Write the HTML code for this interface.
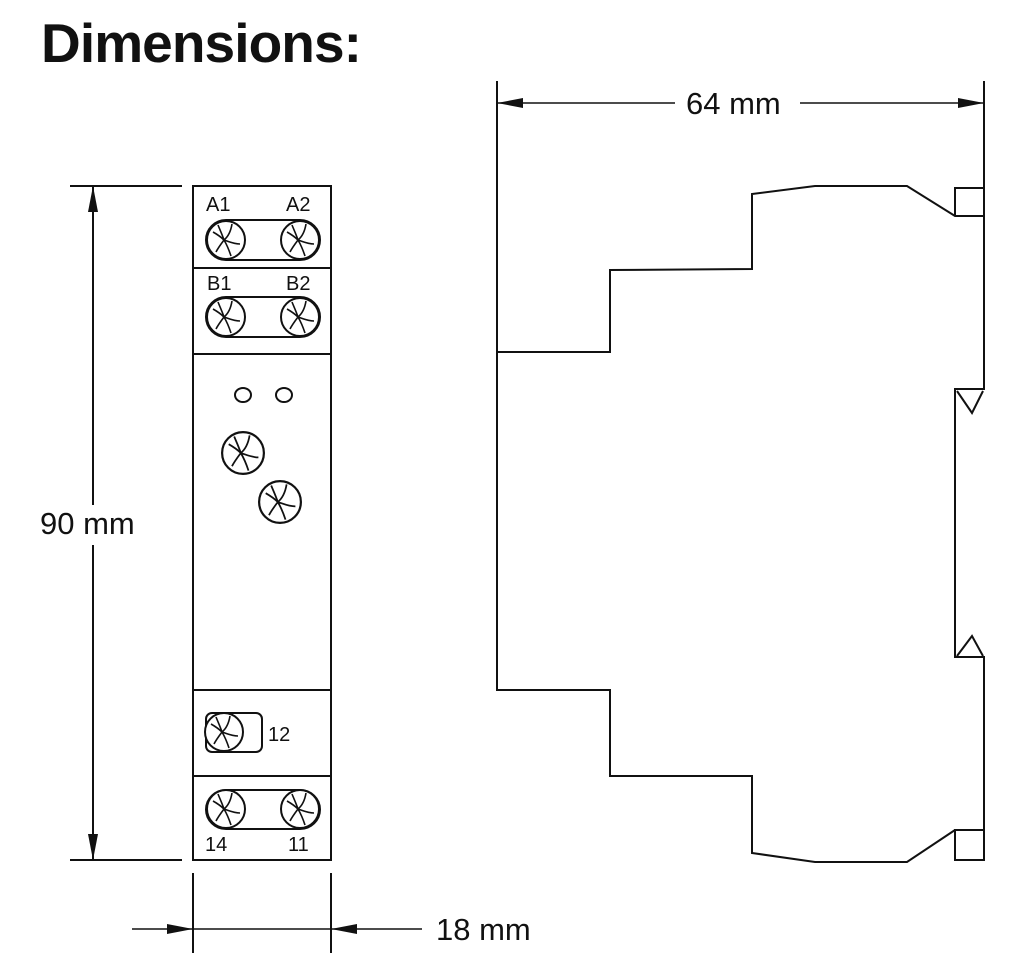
<!DOCTYPE html>
<html><head><style>
html,body{margin:0;padding:0;background:#fff;}
svg{display:block;}
text{font-family:"Liberation Sans",Arial,sans-serif;fill:#111;}
</style></head><body>
<svg width="1022" height="964" viewBox="0 0 1022 964" xmlns="http://www.w3.org/2000/svg">
<defs>
<g id="scr">
<circle r="19" fill="#fff" stroke="#111" stroke-width="2"/>
<path d="M-13,-8 C-6,-4 -4,-2 -2,0 C-5,4 -8,8 -10,12 M-2,0 C3,-4 5,-10 6,-16 M-2,0 C4,2 8,4 14,4 M-2,0 C1,5 3,10 5,16 M-2,0 C-4,-6 -6,-10 -8,-15" fill="none" stroke="#111" stroke-width="1.6"/>
</g>
</defs>
<text x="41" y="62" font-size="55" font-weight="bold" textLength="321">Dimensions:</text>

<g fill="none" stroke="#111" stroke-width="2">
<line x1="70" y1="186" x2="182" y2="186"/>
<line x1="70" y1="860" x2="182" y2="860"/>
<line x1="93" y1="186" x2="93" y2="505"/>
<line x1="93" y1="545" x2="93" y2="860"/>
<line x1="193" y1="873" x2="193" y2="953"/>
<line x1="331" y1="873" x2="331" y2="953"/>
<line x1="132" y1="929" x2="422" y2="929" stroke-width="1.5"/>
<line x1="497" y1="81" x2="497" y2="352"/>
<line x1="984" y1="81" x2="984" y2="188"/>
<line x1="497" y1="103" x2="675" y2="103" stroke-width="1.5"/>
<line x1="800" y1="103" x2="984" y2="103" stroke-width="1.5"/>

<rect x="193" y="186" width="138" height="674"/>
<line x1="193" y1="268" x2="331" y2="268"/>
<line x1="193" y1="354" x2="331" y2="354"/>
<line x1="193" y1="690" x2="331" y2="690"/>
<line x1="193" y1="776" x2="331" y2="776"/>
<rect x="206" y="220" width="114" height="40" rx="20"/>
<rect x="206" y="297" width="114" height="40" rx="20"/>
<rect x="206" y="713" width="56" height="39" rx="6"/>
<rect x="206" y="790" width="114" height="39" rx="20"/>
<ellipse cx="243" cy="395" rx="8" ry="7"/>
<ellipse cx="284" cy="395" rx="8" ry="7"/>

<path d="M497,352 L610,352 L610,270 L752,269 L752,194 L815,186 L907,186 L955,216 L984,216 M955,216 L955,188 L984,188 L984,389 L955,389 L955,657 L984,657 L984,860 L955,860 L955,830 L984,830 M955,830 L907,862 L815,862 L752,853 L752,776 L610,776 L610,690 L497,690 L497,352"/>
<path d="M957,391 L972,413 L983,391"/>
<path d="M957,656 L972,636 L983,656"/>
</g>
<g fill="#111">
<polygon points="93,186 88,212 98,212"/>
<polygon points="93,860 88,834 98,834"/>
<polygon points="193,929 167,924 167,934"/>
<polygon points="331,929 357,924 357,934"/>
<polygon points="497,103 523,98 523,108"/>
<polygon points="984,103 958,98 958,108"/>
</g>
<use href="#scr" x="226" y="240"/>
<use href="#scr" x="300" y="240"/>
<use href="#scr" x="226" y="317"/>
<use href="#scr" x="300" y="317"/>
<use href="#scr" x="224" y="732"/>
<use href="#scr" x="226" y="809"/>
<use href="#scr" x="300" y="809"/>
<g transform="translate(243,453) scale(1.1)"><use href="#scr"/></g>
<g transform="translate(280,502) scale(1.1)"><use href="#scr"/></g>

<g font-size="20">
<text x="206" y="211">A1</text>
<text x="286" y="211">A2</text>
<text x="207" y="290">B1</text>
<text x="286" y="290">B2</text>
<text x="268" y="741">12</text>
<text x="205" y="851">14</text>
<text x="288" y="851">11</text>
</g>
<g font-size="31">
<text x="40" y="534">90 mm</text>
<text x="436" y="940">18 mm</text>
<text x="686" y="114">64 mm</text>
</g>
</svg>
</body></html>
